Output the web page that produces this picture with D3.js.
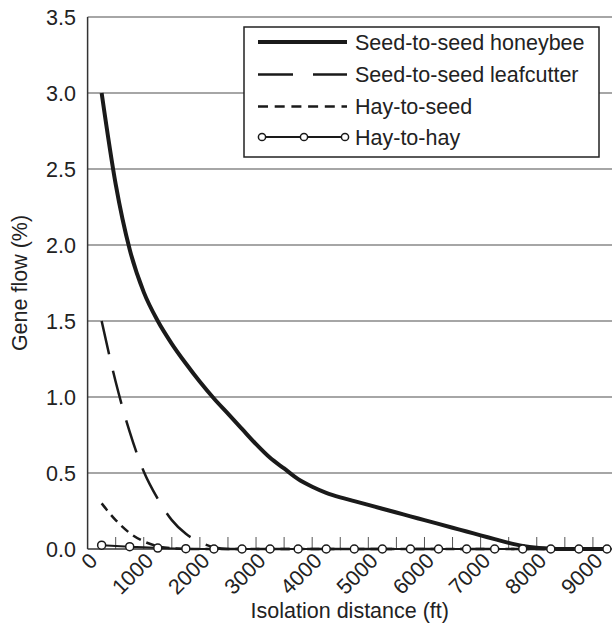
<!DOCTYPE html>
<html>
<head>
<meta charset="utf-8">
<script src="https://cdn.jsdelivr.net/npm/d3@7"></script>
<style>
  body { margin: 0; background: #fff; }
  text { font-family: "Liberation Sans", Arial, sans-serif; fill: #222; }
</style>
</head>
<body>
<div id="chart"></div>
<script>
// distances (ft) sampled every 250 ft
const distances = [250, 500, 750, 1000, 1250, 1500, 1750, 2000, 2250, 2500, 2750, 3000,
  3250, 3500, 3750, 4000, 4250, 4500, 4750, 5000, 5250, 5500, 5750, 6000, 6250, 6500,
  6750, 7000, 7250, 7500, 7750, 8000, 8250, 8500, 8750, 9000, 9250];

const seedHoneybee = [3.00, 2.40, 1.97, 1.69, 1.50, 1.35, 1.22, 1.10, 0.99, 0.89, 0.79, 0.69,
  0.60, 0.53, 0.46, 0.41, 0.37, 0.34, 0.315, 0.29, 0.265, 0.24, 0.215, 0.19, 0.165, 0.14,
  0.115, 0.09, 0.065, 0.04, 0.02, 0.008, 0.003, 0, 0, 0, 0];

const seedLeafcutter = [1.50, 1.10, 0.77, 0.51, 0.33, 0.19, 0.10, 0.045, 0.012, 0, 0, 0,
  0, 0, 0, 0, 0, 0, 0, 0, 0, 0, 0, 0, 0, 0, 0, 0, 0, 0, 0, 0, 0, 0, 0, 0, 0];

const hayToSeed = [0.30, 0.19, 0.105, 0.05, 0.018, 0.005, 0, 0, 0, 0, 0, 0,
  0, 0, 0, 0, 0, 0, 0, 0, 0, 0, 0, 0, 0, 0, 0, 0, 0, 0, 0, 0, 0, 0, 0, 0, 0];

// hay-to-hay markers every 500 ft
const hayDistances = [250, 750, 1250, 1750, 2250, 2750, 3250, 3750, 4250, 4750,
  5250, 5750, 6250, 6750, 7250, 7750, 8250, 8750, 9250];
const hayToHay = [0.025, 0.015, 0.006, 0.002, 0, 0, 0, 0, 0, 0,
  0, 0, 0, 0, 0, 0, 0, 0, 0];

const xTicks = [0, 1000, 2000, 3000, 4000, 5000, 6000, 7000, 8000, 9000];
const xMinorTicks = [500, 1000, 1500, 2000, 2500, 3000, 3500, 4000, 4500, 5000,
  5500, 6000, 6500, 7000, 7500, 8000, 8500, 9000];
const yTicks = [0, 0.5, 1.0, 1.5, 2.0, 2.5, 3.0, 3.5];

const legendLabels = ['Seed-to-seed honeybee', 'Seed-to-seed leafcutter', 'Hay-to-seed', 'Hay-to-hay'];

const width = 616, height = 643;
const margin = {top: 17, right: 4, bottom: 94, left: 87.6};
const fontSize = '21.5px';

const svg = d3.select('#chart').append('svg')
  .attr('width', width).attr('height', height);

const x = d3.scaleLinear().domain([0, 9340]).range([margin.left, width - margin.right]);
const y = d3.scaleLinear().domain([0, 3.5]).range([height - margin.bottom, margin.top]);

// gridlines
svg.append('g').selectAll('line')
  .data(yTicks.filter(d => d > 0))
  .enter().append('line')
  .attr('x1', x(0)).attr('x2', x.range()[1])
  .attr('y1', d => y(d)).attr('y2', d => y(d))
  .style('stroke', '#888').style('stroke-width', 1.5);

// y tick labels
svg.append('g').selectAll('text')
  .data(yTicks)
  .enter().append('text')
  .attr('x', 76).attr('y', d => y(d))
  .attr('dy', '0.35em')
  .style('text-anchor', 'end')
  .style('font-size', fontSize)
  .text(d => d.toFixed(1));

// x minor ticks (pointing up)
svg.append('g').selectAll('line')
  .data(xMinorTicks)
  .enter().append('line')
  .attr('x1', d => x(d)).attr('x2', d => x(d))
  .attr('y1', y(0)).attr('y2', y(0) - 12)
  .style('stroke', '#555').style('stroke-width', 1);

// x tick labels
svg.append('g').selectAll('text')
  .data(xTicks)
  .enter().append('text')
  .attr('transform', d => `translate(${x(d) + 11}, ${y(0) + 13}) rotate(-45)`)
  .style('text-anchor', 'end')
  .style('font-size', fontSize)
  .text(d => d);

// axis lines
svg.append('line')
  .attr('x1', x(0)).attr('x2', x(0)).attr('y1', y(0)).attr('y2', y(3.5))
  .style('stroke', '#333').style('stroke-width', 1.5);
svg.append('line')
  .attr('x1', x(0)).attr('x2', x.range()[1]).attr('y1', y(0)).attr('y2', y(0))
  .style('stroke', '#333').style('stroke-width', 1.5);

// axis titles
svg.append('text')
  .attr('transform', `translate(27, ${(y(0) + y(3.5)) / 2}) rotate(-90)`)
  .style('text-anchor', 'middle')
  .style('font-size', fontSize)
  .text('Gene flow (%)');
svg.append('text')
  .attr('x', (x(0) + x.range()[1]) / 2).attr('y', 618)
  .style('text-anchor', 'middle')
  .style('font-size', fontSize)
  .text('Isolation distance (ft)');

// series
const lineFun = d3.line().curve(d3.curveMonotoneX)
  .x(d => x(d[0])).y(d => y(d[1]));

const plot = svg.append('g').attr('class', 'lines');

plot.append('path')
  .datum(distances.map((d, i) => [d, hayToSeed[i]]))
  .attr('d', lineFun)
  .style('fill', 'none').style('stroke', '#1a1a1a').style('stroke-width', 2.5)
  .style('stroke-dasharray', '9,6');

plot.append('path')
  .datum(distances.map((d, i) => [d, seedLeafcutter[i]]))
  .attr('d', lineFun)
  .style('fill', 'none').style('stroke', '#1a1a1a').style('stroke-width', 2.5)
  .style('stroke-dasharray', '34,17');

plot.append('path')
  .datum(distances.map((d, i) => [d, seedHoneybee[i]]))
  .attr('d', lineFun)
  .style('fill', 'none').style('stroke', '#1a1a1a').style('stroke-width', 4);

const hayData = hayDistances.map((d, i) => [d, hayToHay[i]]);
plot.append('path')
  .datum(hayData)
  .attr('d', lineFun)
  .style('fill', 'none').style('stroke', '#1a1a1a').style('stroke-width', 2);

plot.selectAll('circle.dot')
  .data(hayData)
  .enter().append('circle')
  .attr('class', 'dot')
  .attr('r', 4)
  .attr('cx', d => x(d[0]))
  .attr('cy', d => y(d[1]))
  .style('fill', '#fff').style('stroke', '#1a1a1a').style('stroke-width', 1.5);

// legend
const legend = svg.append('g').attr('class', 'legend');
legend.append('rect')
  .attr('x', 244).attr('y', 27).attr('width', 355).attr('height', 130)
  .style('fill', '#fff').style('stroke', '#222').style('stroke-width', 1.5);

const rowY = [42, 74.5, 106.5, 137];
const styles = [
  {w: 4, dash: null},
  {w: 2.5, dash: '35,20'},
  {w: 2.5, dash: '10,6.7'},
  {w: 2, dash: null}
];

legendLabels.forEach((label, i) => {
  const ly = rowY[i];
  legend.append('line')
    .attr('x1', i === 3 ? 262 : 258).attr('x2', 347)
    .attr('y1', ly).attr('y2', ly)
    .style('stroke', '#1a1a1a').style('stroke-width', styles[i].w)
    .style('stroke-dasharray', styles[i].dash);
  legend.append('text')
    .attr('x', 355).attr('y', ly).attr('dy', '0.35em')
    .style('font-size', fontSize)
    .text(label);
});

legend.selectAll('circle')
  .data([262, 304, 345])
  .enter().append('circle')
  .attr('cx', d => d).attr('cy', rowY[3]).attr('r', 3.6)
  .style('fill', '#fff').style('stroke', '#1a1a1a').style('stroke-width', 1.5);
</script>
</body>
</html>
